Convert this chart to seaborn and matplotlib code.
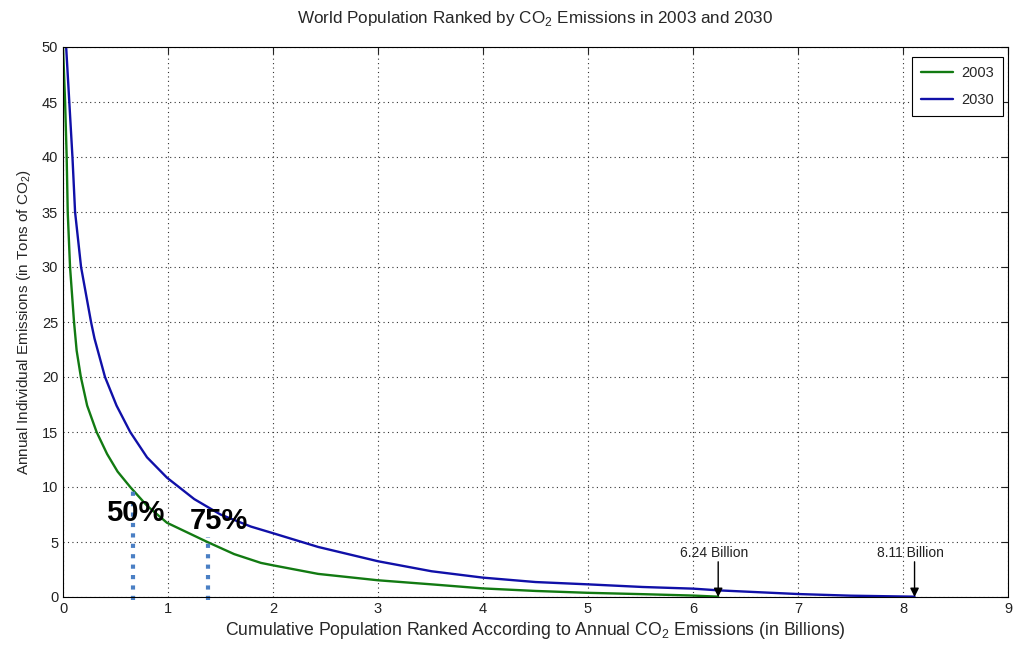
import matplotlib
matplotlib.use('Agg')
import matplotlib.pyplot as plt
import pandas as pd
import seaborn as sns

#%% data
pop_2003 = [0.0, 0.02, 0.035, 0.045, 0.067, 0.105, 0.13, 0.17, 0.23, 0.32, 0.42, 0.52,
            0.64, 0.80, 0.99, 1.375, 1.63, 1.885, 2.0, 2.43, 3.0, 3.51, 4.0, 4.5,
            5.0, 5.55, 6.0, 6.24]
em_2003 = [50, 45, 40, 35, 30, 25, 22.4, 20, 17.4, 15, 13.0, 11.4,
           10, 8.3, 6.75, 5.0, 3.9, 3.1, 2.88, 2.1, 1.52, 1.15, 0.78, 0.55,
           0.38, 0.25, 0.13, 0.03]

pop_2030 = [0.03, 0.06, 0.09, 0.115, 0.172, 0.267, 0.30, 0.40, 0.51, 0.64, 0.80, 0.99,
            1.25, 1.50, 1.79, 2.0, 2.43, 3.0, 3.51, 4.0, 4.5, 5.0, 5.52, 6.0,
            6.25, 7.0, 7.5, 8.11]
em_2030 = [50, 45, 40, 35, 30, 25, 23.5, 20, 17.4, 15, 12.7, 10.85,
           8.9, 7.5, 6.4, 5.8, 4.55, 3.25, 2.34, 1.76, 1.36, 1.15, 0.91, 0.76,
           0.6, 0.27, 0.12, 0.03]

marker_x = [0.667, 1.38]
marker_top = [9.8, 5.5]
marker_labels = ['50%', '75%']
marker_text_pos = [(0.69, 7.6), (1.48, 6.9)]

totals = [6.24, 8.11]
total_labels = ['6.24 Billion', '8.11 Billion']

df = pd.concat([
    pd.DataFrame({'pop': pop_2003, 'em': em_2003, 'year': '2003'}),
    pd.DataFrame({'pop': pop_2030, 'em': em_2030, 'year': '2030'}),
])

#%% plot
sns.set_style('white')
plt.rcParams['font.family'] = ['Liberation Sans', 'DejaVu Sans']
plt.rcParams['mathtext.fontset'] = 'custom'
plt.rcParams['mathtext.rm'] = 'Liberation Sans'

fig = plt.figure(figsize=(10.13, 6.45), dpi=100)
ax = fig.add_axes([63/1013, 48/645, 945/1013, 550/645])

sns.lineplot(data=df, x='pop', y='em', hue='year', sort=False, estimator=None,
             palette={'2003': '#127a12', '2030': '#1010a8'}, linewidth=1.7, ax=ax)

ax.set_xlim(0, 9)
ax.set_ylim(0, 50)
ax.set_xticks(range(0, 10))
ax.set_yticks(range(0, 51, 5))
ax.grid(True, linestyle=(0, (1, 3)), color='#333333', linewidth=0.8)
ax.tick_params(direction='in', length=5, labelsize=10.5, colors='#222222',
               top=True, right=True)
for s in ax.spines.values():
    s.set_color('black')
    s.set_linewidth(0.8)

ax.set_title(r'World Population Ranked by CO$_2$ Emissions in 2003 and 2030',
             fontsize=12.3, pad=17)
ax.set_xlabel(r'Cumulative Population Ranked According to Annual CO$_2$ Emissions (in Billions)',
              fontsize=12.7, labelpad=3)
ax.set_ylabel(r'Annual Individual Emissions (in Tons of CO$_2$)', fontsize=11, labelpad=6)

# percentage markers
for xv, top in zip(marker_x, marker_top):
    ax.plot([xv, xv], [-0.3, top], linestyle=(0, (1, 1.5)), color='#4a7fc4',
            linewidth=3, clip_on=False)
for (tx, ty), lab in zip(marker_text_pos, marker_labels):
    ax.text(tx, ty, lab, fontsize=21, fontweight='bold', ha='center', va='center',
            color='black')

# total population arrows
for xv, lab in zip(totals, total_labels):
    ax.text(xv - 0.04, 4.0, lab, ha='center', va='center', fontsize=10, color='#222222')
    ax.annotate('', xy=(xv, 0), xytext=(xv, 3.2),
                arrowprops=dict(arrowstyle='-|>', color='black', lw=1, shrinkA=0, shrinkB=0,
                                mutation_scale=13))

leg = ax.legend(loc='upper right', bbox_to_anchor=(0.9947, 0.9818), borderaxespad=0,
                fontsize=10.5, fancybox=False, framealpha=1, edgecolor='black',
                handlelength=2.2, borderpad=0.6, labelspacing=0.9, handletextpad=0.6)
leg.get_frame().set_linewidth(0.8)

fig.savefig('out.png', dpi=100)
